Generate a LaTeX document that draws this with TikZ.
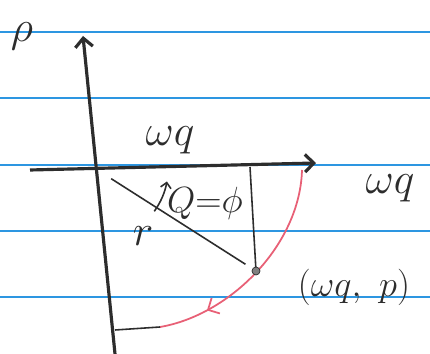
\documentclass[tikz,border=0pt]{standalone}
\usepackage{tikz}
\usetikzlibrary{arrows.meta,decorations.markings}
\definecolor{paperblue}{RGB}{45,150,225}
\definecolor{pencil}{RGB}{45,45,45}
\definecolor{redpen}{RGB}{232,96,118}

\begin{document}
\begin{tikzpicture}[x=0.02cm, y=-0.02cm,
  axis/.style={line width=1.8pt, pencil, -{Straight Barb[length=5pt,width=10pt]}},
  pencilline/.style={line width=0.9pt, pencil},
  lbl/.style={font=\fontsize{24}{26}\selectfont, pencil, inner sep=0pt}]
\useasboundingbox (0,0) rectangle (430,354);
\fill[white] (0,0) rectangle (430,354);
% ruled paper
\foreach \y in {32,98,165,231,297}
  \draw[paperblue, line width=0.9pt] (0,\y) -- (430,\y);

% points
\coordinate (O) at (96,169);
\coordinate (ybot) at (115,354);
\coordinate (ytip) at (83,36);
\coordinate (xstart) at (30,170);
\coordinate (xtip) at (316,163);
\coordinate (foot) at (250,167);
\coordinate (P) at (256,271);
\coordinate (arcstart) at (302,170);
\coordinate (arcend) at (160,327);
\coordinate (bot) at (115,330);

% axes
\draw[axis] (ybot) -- (ytip);
\draw[axis] (xstart) -- (xtip);

% radius and drop line
\draw[pencilline, shorten <=0.36cm, shorten >=0.25cm] (O) -- (P);
\draw[pencilline] (foot) -- (P);

% angle mark
\draw[pencilline, -{Straight Barb[length=3pt,width=6pt]}] (O) ++(36:72) arc[start angle=36, end angle=10, radius=72];

% path in phase space
\draw[redpen, line width=1pt, postaction={decorate},
  decoration={markings, mark=at position 0.78 with {\arrow{Straight Barb[length=5pt,width=10pt]}}}]
  (arcstart) .. controls (300,245) and (230,315) .. (arcend);
\draw[pencilline] (arcend) -- (bot);
\filldraw[pencil, fill=gray] (P) circle[radius=4];

% labels
\node[lbl, font=\fontsize{34}{36}\selectfont] (rho) at (22,36) {$\rho$};
\node[lbl] (wqtop) at (170,140) {$\omega q$};
\node[lbl] (wqright) at (390,188) {$\omega q$};
\node[lbl, font=\fontsize{20}{22}\selectfont] (angle) at (205,203) {$Q{=}\phi$};
\node[lbl] (r) at (143,236) {$r$};
\node[lbl, font=\fontsize{22}{24}\selectfont] (pt) at (354,287) {$(\omega q,\ p)$};
\end{tikzpicture}
\end{document}
